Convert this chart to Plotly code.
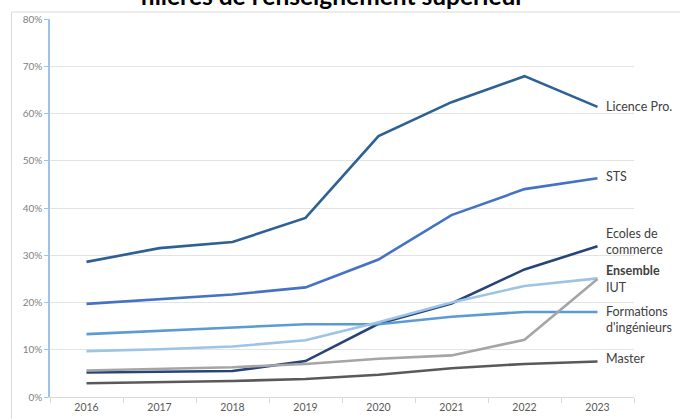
import plotly.graph_objects as go

years = ["2016", "2017", "2018", "2019", "2020", "2021", "2022", "2023"]

licence_pro = [28.6, 31.5, 32.8, 37.9, 55.2, 62.4, 67.9, 61.4]
sts = [19.7, 20.7, 21.7, 23.2, 29.1, 38.5, 44.0, 46.3]
ecoles_commerce = [5.2, 5.4, 5.5, 7.6, 15.5, 19.8, 27.0, 31.9]
ingenieurs = [13.3, 14.0, 14.6, 15.4, 15.4, 17.0, 18.0, 18.0]
iut = [9.7, 10.1, 10.7, 12.0, 15.8, 20.0, 23.5, 25.1]
ensemble = [5.6, 5.9, 6.3, 7.0, 8.1, 8.8, 12.1, 25.0]
master = [2.9, 3.1, 3.4, 3.8, 4.7, 6.1, 7.0, 7.5]

series = [
  ("Licence Pro.", licence_pro, "#2E6193"),
  ("STS", sts, "#4472C4"),
  ("Ecoles de commerce", ecoles_commerce, "#264478"),
  ("Formations d'ingénieurs", ingenieurs, "#5B9BD5"),
  ("IUT", iut, "#9DC3E6"),
  ("Ensemble", ensemble, "#A5A5A5"),
  ("Master", master, "#595959"),
]

# right-hand labels: text and value it sits at
end_labels = [
  ("Licence Pro.", 61.5),
  ("STS", 46.6),
  ("Ecoles de<br>commerce", 33.0),
  ("<b>Ensemble</b>", 26.8),
  ("IUT", 23.2),
  ("Formations<br>d'ingénieurs", 16.3),
  ("Master", 8.2),
]

fig = go.Figure()
for name, vals, color in series:
  fig.add_trace(go.Scatter(
    x=years, y=vals, mode="lines", name=name,
    line={"color": color, "width": 2.6},
    showlegend=False, hoverinfo="skip"
  ))

for text, yv in end_labels:
  fig.add_annotation(
    x=7, y=yv, xref="x", yref="y", text=text, showarrow=False,
    xanchor="left", xshift=6, align="left",
    font={"family": "Lato", "size": 12.5, "color": "#404040"}
  )

# title sits mostly above the top edge, as in the source picture
fig.add_annotation(
  x=0.483, y=1.0175, xref="paper", yref="paper", yanchor="bottom",
  text="<b>filières de l'enseignement supérieur</b>", showarrow=False,
  font={"family": "Lato", "size": 24.5, "color": "#000000"}
)

fig.add_shape(
  type="rect", xref="paper", yref="paper",
  x0=-0.066, x1=1.2, y0=-0.2, y1=1.0185,
  line={"color": "#D9D9D9", "width": 1}
)

fig.update_layout(
  width=680, height=419,
  margin={"l": 49.5, "r": 45.5, "t": 19, "b": 22, "autoexpand": False},
  paper_bgcolor="white", plot_bgcolor="white",
  font={"family": "Lato", "color": "#595959"},
  xaxis={
    "type": "category", "range": [-0.5, 7.5],
    "showgrid": False, "showline": True, "linecolor": "#D9D9D9",
    "ticks": "outside", "tickson": "boundaries", "ticklen": 5,
    "tickcolor": "#D9D9D9", "tickfont": {"size": 10.5, "color": "#595959"},
  },
  yaxis={
    "range": [0, 80], "dtick": 10, "ticksuffix": "%",
    "showgrid": True, "gridcolor": "#E3E3E3", "zeroline": False,
    "showline": True, "linecolor": "#9DC3E6", "linewidth": 1.5,
    "ticks": "outside", "ticklen": 4, "tickcolor": "#9DC3E6",
    "tickfont": {"size": 10, "color": "#7F7F7F"},
  },
)

fig.write_html(
  "out.html",
  config={"displayModeBar": False},
  post_script="document.body.style.margin = '0';"
)
